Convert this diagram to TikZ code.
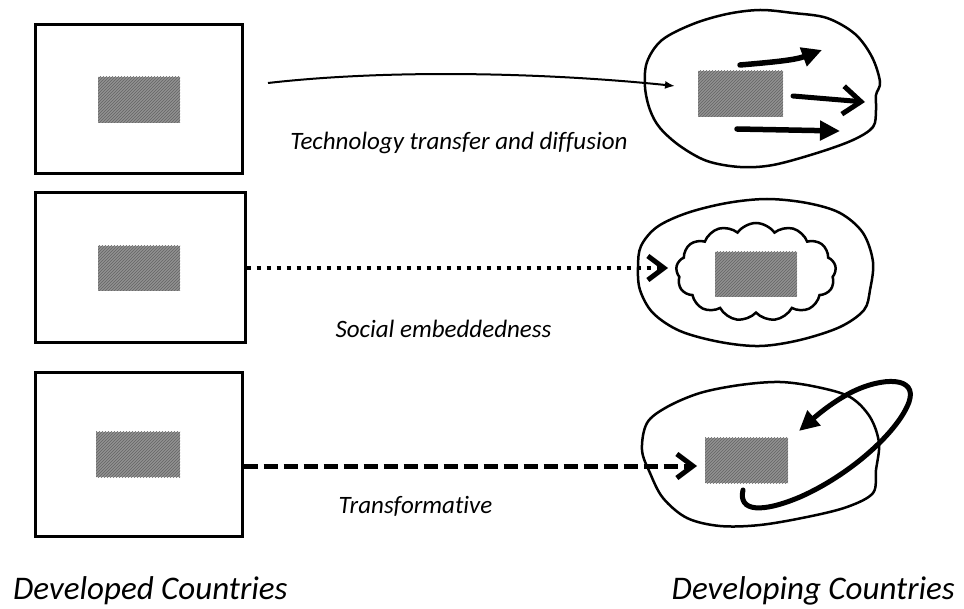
\documentclass[tikz,border=0pt]{standalone}
\usepackage{fontspec}
\setmainfont{Carlito}[Ligatures=NoCommon]
\usetikzlibrary{arrows.meta,shapes.symbols,patterns}
\begin{document}
\begin{tikzpicture}[x=1pt,y=-1pt,
  boxst/.style={draw=black,line width=3pt,inner sep=0pt,fill=white},
  grayrect/.style={inner sep=0pt,preaction={fill={rgb,255:red,145;green,145;blue,145}},
     pattern=north east lines,pattern color={rgb,255:red,100;green,100;blue,100}},
  blobline/.style={draw=black,line width=2.5pt,line join=round},
  thinarr/.style={line width=2pt,-{Latex[length=10pt,width=8pt]}},
  dotconn/.style={line width=4.5pt,dash pattern=on 4.5pt off 5.5pt,-{Straight Barb[length=16pt,width=24pt,line width=5pt]}},
  dashconn/.style={line width=5pt,dash pattern=on 14pt off 6pt,-{Straight Barb[length=16pt,width=24pt,line width=5pt]}},
  fatarr/.style={line width=5.5pt,line cap=round,-{Triangle[length=20pt,width=19pt]}},
  fatbarb/.style={line width=5pt,line cap=round,-{Straight Barb[length=18pt,width=28pt,line width=5pt]}},
  lbl/.style={font=\itshape\fontsize{25}{30}\selectfont,inner sep=0pt,anchor=base},
  big/.style={font=\itshape\fontsize{33}{40}\selectfont,inner sep=0pt}
]
\useasboundingbox (0,0) rectangle (964,609);

% left boxes
\node[boxst,minimum width=207pt,minimum height=149pt] (b1) at (138.5,99.5) {};
\node[boxst,minimum width=210pt,minimum height=150pt] (b2) at (140,268) {};
\node[boxst,minimum width=207pt,minimum height=163pt] (b3) at (138.5,454.5) {};
\node[grayrect,minimum width=82pt,minimum height=46pt] (g1) at (139,100) {};
\node[grayrect,minimum width=82pt,minimum height=45pt] (g2) at (139,268.5) {};
\node[grayrect,minimum width=84pt,minimum height=45pt] (g3) at (138,454.5) {};

% right blobs
\draw[blobline] plot[smooth cycle,tension=0.55] coordinates {(645,87) (647,62) (662,40) (693,24) (727,14) (760,10) (793,13) (827,18) (855,34) (872,57) (880,82) (876,95) (876,110) (873,127) (853,140) (817,153) (773,165) (740,167) (707,161) (680,146) (660,128) (650,110)};
\draw[blobline] plot[smooth cycle,tension=0.55] coordinates {(638,267) (641,246) (657,227) (687,213) (727,203) (767,199) (807,203) (840,213) (863,233) (873,262) (870,290) (864,310) (840,327) (800,340) (760,346) (720,342) (680,331) (653,313) (640,290)};
\draw[blobline] plot[smooth cycle,tension=0.55] coordinates {(642,450) (647,423) (667,407) (700,393) (740,385) (780,382) (817,387) (850,397) (870,417) (879,443) (876,470) (873,493) (847,507) (807,517) (760,525) (720,526) (687,518) (663,498) (650,473)};

\node[cloud,cloud puffs=13,cloud puff arc=110,aspect=1.7,draw=black,line width=2.5pt,
      minimum width=160pt,minimum height=98pt,inner sep=0pt] (cl) at (756,272) {};

\node[grayrect,minimum width=85pt,minimum height=46pt] (r1) at (740.5,94) {};
\node[grayrect,minimum width=82pt,minimum height=45pt] (r2) at (756,274.5) {};
\node[grayrect,minimum width=83pt,minimum height=45pt] (r3) at (746.5,460.5) {};

% connectors
\coordinate (s1) at (268,83);
\coordinate (t1) at (675,86);
\draw[thinarr] (s1) .. controls (400,68) and (560,74) .. (t1);
\coordinate (t2) at (668,268);
\draw[dotconn] (b2.east |- t2) -- (t2);
\coordinate (t3) at (697,466);
\draw[dashconn] (b3.east |- t3) -- (t3);

% arrows inside blob 1
\coordinate (a1) at (740,65);
\coordinate (a2) at (822,50);
\draw[fatarr] (a1) .. controls (775,62) and (795,60) .. (a2);
\coordinate (bb1) at (793,96);
\coordinate (bb2) at (865,102);
\draw[fatbarb] (bb1) -- (bb2);
\coordinate (c1) at (737,129);
\coordinate (c2) at (840,131);
\draw[fatarr] (c1) -- (c2);

% loop arrow in blob 3
\coordinate (l1) at (743,490);
\coordinate (l2) at (799,431);
\draw[fatarr,line width=5pt] (l1) .. controls (738,512) and (762,513) .. (800,497)
   .. controls (850,475) and (898,432) .. (909,402)
   .. controls (918,376) and (882,377) .. (852,392)
   .. controls (832,402) and (815,417) .. (l2);

% labels
\node[lbl] (lt1) at (459,150) {Technology transfer and diffusion};
\node[lbl] (lt2) at (443.5,338) {Social embeddedness};
\node[lbl] (lt3) at (415.5,513) {Transformative};
\node[big,anchor=base west] (dev1) at (13,599) {Developed Countries};
\node[big,anchor=base east] (dev2) at (955,599) {Developing Countries};
\end{tikzpicture}
\end{document}
